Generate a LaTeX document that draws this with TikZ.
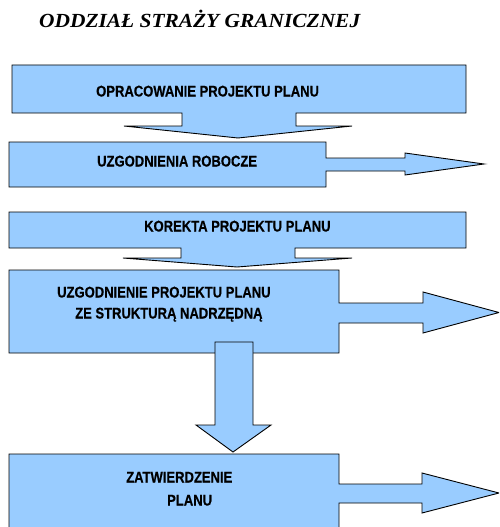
\documentclass[tikz,border=0pt]{standalone}
\usepackage{fontspec}
\newfontfamily\titlefont[FakeStretch=1.07]{Liberation Serif}
\newfontfamily\labelfont[FakeStretch=0.84,FakeBold=0.4]{Liberation Sans}
\definecolor{calloutblue}{HTML}{99CCFF}
\begin{document}
\begin{tikzpicture}[x=1pt,y=-1pt,
  callout/.style={fill=calloutblue,draw=black,line width=0.9pt,line join=miter},
  label/.style={anchor=base west,inner sep=0pt,font=\labelfont\bfseries\fontsize{15.5}{18}\selectfont},
  heading/.style={anchor=base west,inner sep=0pt,font=\titlefont\bfseries\itshape\fontsize{20}{24}\selectfont}]
\useasboundingbox (0,0) rectangle (499,527);
\clip (0,0) rectangle (499,527);

% heading
\node[heading] (title) at (39,27.5) {ODDZIAŁ STRAŻY GRANICZNEJ};

% step 1: box with downward arrow callout
\draw[callout] (12,65) -- (466,65) -- (466,113) -- (296,113) -- (296,126) -- (352,126)
  -- (238,138) -- (124,126) -- (182,126) -- (182,113) -- (12,113) -- cycle;
\node[label] (s1) at (96,96.5) {OPRACOWANIE PROJEKTU PLANU};

% step 2: box with right arrow callout
\draw[callout] (9,142) -- (326,142) -- (326,158) -- (405,158) -- (405,153) -- (484,164)
  -- (405,175) -- (405,171) -- (326,171) -- (326,187) -- (9,187) -- cycle;
\node[label] (s2) at (97,166.5) {UZGODNIENIA ROBOCZE};

% step 3: box with downward arrow callout
\draw[callout] (9,212) -- (466,212) -- (466,248) -- (295,248) -- (295,258) -- (352,258)
  -- (237,267) -- (123,258) -- (181,258) -- (181,248) -- (9,248) -- cycle;
\node[label] (s3) at (144,231.5) {KOREKTA PROJEKTU PLANU};

% step 4: box with right arrow callout
\draw[callout] (9,270) -- (339,270) -- (339,303) -- (423,303) -- (423,292) -- (499,312.5)
  -- (423,333) -- (423,323) -- (339,323) -- (339,353) -- (9,353) -- cycle;
\node[label] (s4a) at (57,297.5) {UZGODNIENIE PROJEKTU PLANU};
\node[label] (s4b) at (75,318.5) {ZE STRUKTURĄ NADRZĘDNĄ};

% block arrow down to the last step
\draw[callout] (215,342) -- (253,342) -- (253,425) -- (271,425) -- (233,452)
  -- (196,425) -- (215,425) -- cycle;

% step 5: box with right arrow callout
\draw[callout] (9,454) -- (339,454) -- (339,484) -- (422,484) -- (422,473) -- (499,493)
  -- (422,513) -- (422,503) -- (339,503) -- (339,540) -- (9,540) -- cycle;
\node[label] (s5a) at (126,482.5) {ZATWIERDZENIE};
\node[label] (s5b) at (167,505.5) {PLANU};
\end{tikzpicture}
\end{document}
